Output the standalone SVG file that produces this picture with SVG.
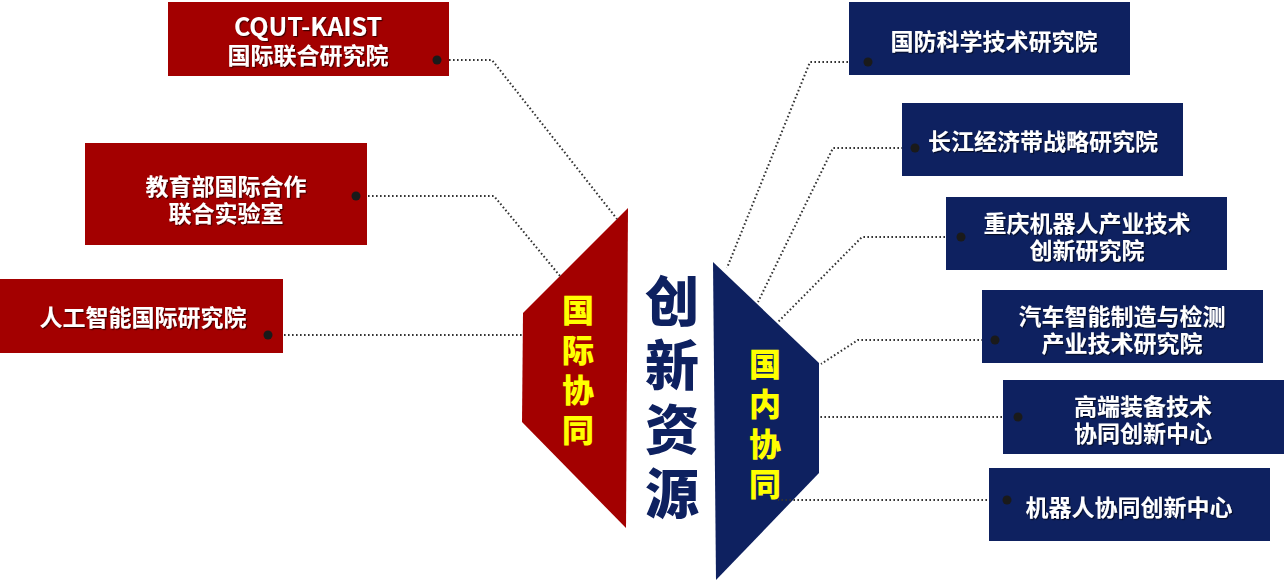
<svg xmlns="http://www.w3.org/2000/svg" width="1286" height="581" viewBox="0 0 1286 581">
<defs>
<filter id="sh" x="-10%" y="-20%" width="120%" height="140%">
<feDropShadow dx="1.2" dy="1.2" stdDeviation="0.6" flood-color="#000" flood-opacity="0.6"/>
</filter>
</defs>
<style>
.red{fill:#A30000}
.navy{fill:#0E2160}
.lbl{font-family:"Noto Sans CJK SC","Liberation Sans",sans-serif;font-weight:bold;font-size:23px;fill:#fff;text-anchor:middle;dominant-baseline:central;filter:url(#sh)}
.lat{font-size:25px}
.yel{font-family:"Noto Sans CJK SC",sans-serif;font-weight:900;font-size:32px;fill:#FFFF00;text-anchor:middle;writing-mode:vertical-rl;letter-spacing:8px}
.big{font-family:"Noto Sans CJK SC",sans-serif;font-weight:900;font-size:54px;fill:#0E2160;text-anchor:middle;writing-mode:vertical-rl;letter-spacing:10px}
.con{fill:none;stroke:#333;stroke-width:2;stroke-dasharray:1.6 2.4}
.dot{fill:#1a1a1a}
</style>
<rect width="1286" height="581" fill="#fff"/>

<g id="intl">
<polygon class="red" points="628,208 626,528 522,422 523,313"/>
<text class="yel" x="578" y="374">国际协同</text>
</g>

<g id="center">
<text class="big" x="672" y="402">创新资源</text>
</g>

<g id="domestic">
<polygon class="navy" points="713,262 819,363 819,473 716,580"/>
<text class="yel" x="765" y="428">国内协同</text>
</g>

<g id="connectors">
<polyline class="con" points="437,60 492,60 617,219"/>
<polyline class="con" points="356,196 494,196 560,276"/>
<polyline class="con" points="268,335 522,335"/>
<polyline class="con" points="868,62 810,62 727,268"/>
<polyline class="con" points="915,148 833,148 758,302"/>
<polyline class="con" points="961,237 862,237 778,322"/>
<polyline class="con" points="995,340 858,340 821,364"/>
<polyline class="con" points="1018,417 820,417"/>
<polyline class="con" points="1007,500 778,500"/>
</g>

<g id="n1">
<rect class="red" x="168" y="2" width="281" height="74"/>
<text class="lbl"><tspan class="lat" x="308" y="25">CQUT-KAIST</tspan><tspan x="308" y="54">国际联合研究院</tspan></text>
<circle class="dot" cx="437" cy="60" r="4.5"/>
</g>
<g id="n2">
<rect class="red" x="85" y="143" width="282" height="102"/>
<text class="lbl"><tspan x="226" y="185">教育部国际合作</tspan><tspan x="226" y="212">联合实验室</tspan></text>
<circle class="dot" cx="356" cy="196" r="4.5"/>
</g>
<g id="n3">
<rect class="red" x="0" y="279" width="283" height="74"/>
<text class="lbl" x="143" y="316">人工智能国际研究院</text>
<circle class="dot" cx="268" cy="335" r="4.5"/>
</g>

<g id="r1">
<rect class="navy" x="849" y="2" width="281" height="73"/>
<text class="lbl" x="994" y="40">国防科学技术研究院</text>
<circle class="dot" cx="868" cy="62" r="4.5"/>
</g>
<g id="r2">
<rect class="navy" x="902" y="103" width="281" height="73"/>
<text class="lbl" x="1043" y="140">长江经济带战略研究院</text>
<circle class="dot" cx="915" cy="148" r="4.5"/>
</g>
<g id="r3">
<rect class="navy" x="946" y="197" width="281" height="73"/>
<text class="lbl"><tspan x="1087" y="222">重庆机器人产业技术</tspan><tspan x="1087" y="249">创新研究院</tspan></text>
<circle class="dot" cx="961" cy="237" r="4.5"/>
</g>
<g id="r4">
<rect class="navy" x="982" y="290" width="281" height="73"/>
<text class="lbl"><tspan x="1122" y="315">汽车智能制造与检测</tspan><tspan x="1122" y="342">产业技术研究院</tspan></text>
<circle class="dot" cx="995" cy="340" r="4.5"/>
</g>
<g id="r5">
<rect class="navy" x="1003" y="380" width="281" height="74"/>
<text class="lbl"><tspan x="1143" y="405">高端装备技术</tspan><tspan x="1143" y="432">协同创新中心</tspan></text>
<circle class="dot" cx="1018" cy="417" r="4.5"/>
</g>
<g id="r6">
<rect class="navy" x="989" y="468" width="281" height="73"/>
<text class="lbl" x="1129" y="506">机器人协同创新中心</text>
<circle class="dot" cx="1007" cy="500" r="4.5"/>
</g>
</svg>
